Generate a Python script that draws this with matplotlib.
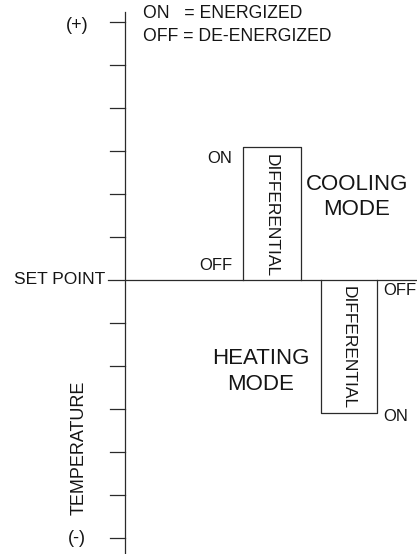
import matplotlib
matplotlib.use("Agg")
import matplotlib.pyplot as plt

plt.rcParams['font.family'] = ['Liberation Sans', 'DejaVu Sans']

# data (temperature units, set point = 0)
tick_values = [-6, -5, -4, -3, -2, -1, 0, 1, 2, 3, 4, 5, 6]
set_point = 0.0
cooling_differential = 3.1
heating_differential = 3.1
legend_lines = ["ON   = ENERGIZED", "OFF = DE-ENERGIZED"]

W, H = 417, 554
fig = plt.figure(figsize=(W / 100, H / 100), dpi=100)
ax = fig.add_axes([0, 0, 1, 1])
ax.set_xlim(0, W)
ax.set_ylim(-6.37, 6.51)
ax.axis('off')

lc = '#2a2a2a'
tc = '#151515'
lw = 0.9
axis_x = 125

# vertical temperature axis
ax.plot([axis_x, axis_x], [-6.4, 6.23], color=lc, lw=lw)
for t in tick_values:
    if t == set_point:
        continue
    ax.plot([axis_x - 15, axis_x], [t, t], color=lc, lw=lw)

# set point line
ax.plot([axis_x - 17, W], [set_point, set_point], color=lc, lw=lw)
ax.text(105, set_point + 0.02, "SET POINT", ha='right', va='center', fontsize=12.5, color=tc)

# cooling box
cx0, cx1 = 243, 301
ctop = set_point + cooling_differential
ax.plot([cx0, cx0, cx1, cx1], [set_point, ctop, ctop, set_point], color=lc, lw=lw)
ax.text(232, ctop - 0.27, "ON", ha='right', va='center', fontsize=12, color=tc)
ax.text(232, set_point + 0.33, "OFF", ha='right', va='center', fontsize=12, color=tc)
ax.text(271, set_point + cooling_differential / 2 - 0.05, "DIFFERENTIAL",
        rotation=-90, ha='center', va='center', fontsize=12.5, color=tc)
ax.text(357, set_point + 1.93, "COOLING\nMODE", ha='center', va='center',
        fontsize=16, color=tc, linespacing=1.3)

# heating box
hx0, hx1 = 321, 377
hbot = set_point - heating_differential
ax.plot([hx0, hx0, hx1, hx1], [set_point, hbot, hbot, set_point], color=lc, lw=lw)
ax.text(383, set_point - 0.25, "OFF", ha='left', va='center', fontsize=12, color=tc)
ax.text(383, hbot - 0.08, "ON", ha='left', va='center', fontsize=12, color=tc)
ax.text(348, set_point - heating_differential / 2 - 0.02, "DIFFERENTIAL",
        rotation=-90, ha='center', va='center', fontsize=12.5, color=tc)
ax.text(261, set_point - 2.13, "HEATING\nMODE", ha='center', va='center',
        fontsize=16, color=tc, linespacing=1.3)

# axis labels
ax.text(77, tick_values[-1] - 0.08, "(+)", ha='center', va='center', fontsize=13, color=tc)
ax.text(77, tick_values[0] - 0.02, "(-)", ha='center', va='center', fontsize=13, color=tc)
ax.text(79, -3.9, "TEMPERATURE", rotation=90, ha='center', va='center', fontsize=13, color=tc)

# legend
ax.text(143, 6.19, legend_lines[0], ha='left', va='center', fontsize=12.7, color=tc)
ax.text(143, 5.65, legend_lines[1], ha='left', va='center', fontsize=12.7, color=tc)

fig.savefig("out.png", dpi=100, facecolor='white')
